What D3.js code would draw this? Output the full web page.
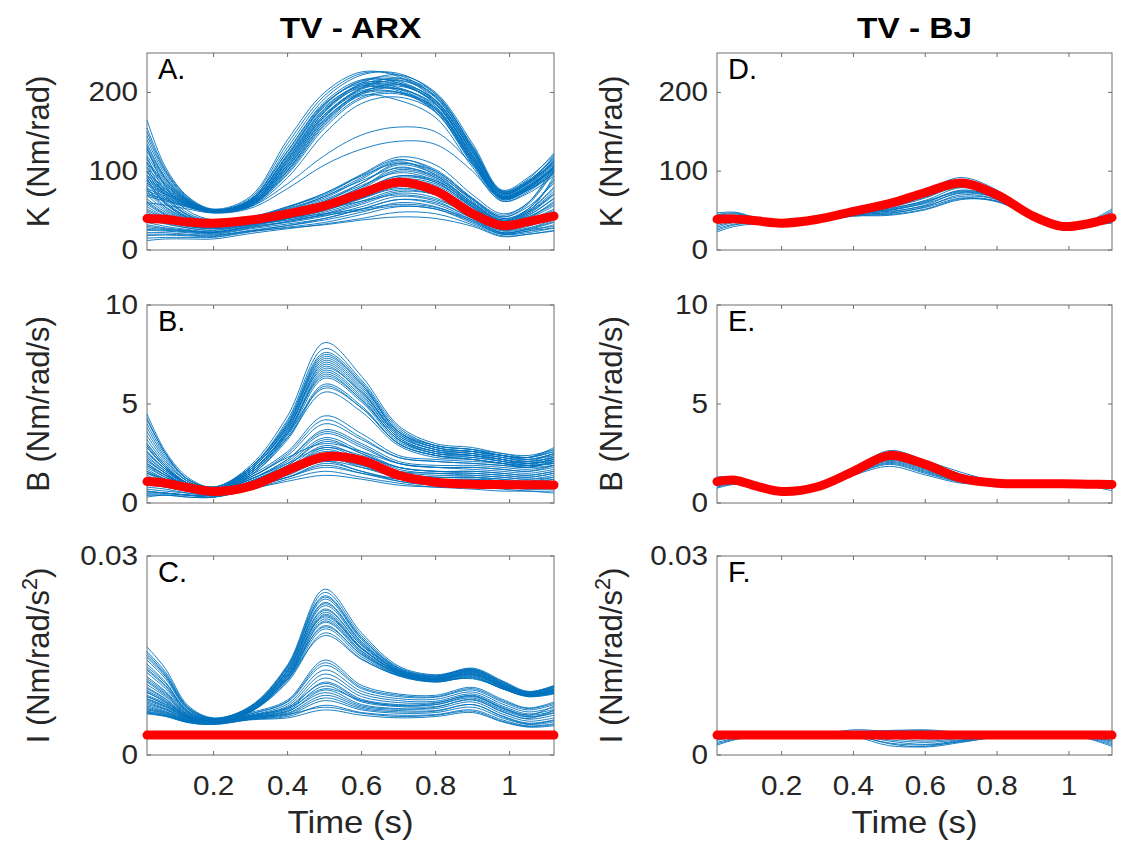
<!DOCTYPE html>
<html>
<head>
<meta charset="utf-8">
<script src="https://cdn.jsdelivr.net/npm/d3@7"></script>
<style>
  html, body { margin: 0; padding: 0; background: #ffffff; }
  svg { display: block; }
  text { font-family: "Liberation Sans", Arial, Helvetica, sans-serif; fill: #262626; }
</style>
</head>
<body>
<svg id="chart" width="1123" height="844"></svg>
<script>
// ---------------- DATA ----------------
const timeGrid = [0.02, 0.07, 0.13, 0.2, 0.3, 0.4, 0.5, 0.6, 0.7, 0.8, 0.9, 0.98, 1.05, 1.12];
const xTicks = [0.2, 0.4, 0.6, 0.8, 1];
const columnTitles = ["TV - ARX", "TV - BJ"];
const panelLetters = ["A.", "B.", "C.", "D.", "E.", "F."];
const kTicks = [0, 100, 200];
const bTicks = [0, 5, 10];
const iTicks = [0, 0.03];
const kTickLabels = ["0", "100", "200"];
const bTickLabels = ["0", "5", "10"];
const iTickLabels = ["0", "0.03"];

// Panel A: stiffness K, TV-ARX (Nm/rad)
const kArxHigh = [
  [165,105,68,52,68,140,200,226,220,190,125,72,85,120],
  [140,95,64,50,64,130,192,222,224,198,132,75,90,123],
  [120,86,62,50,62,122,185,215,218,195,128,74,88,116],
  [100,78,60,49,60,112,175,208,212,190,122,70,84,110],
  [88,72,58,49,58,105,168,204,210,185,118,68,80,106],
  [128,90,63,51,63,118,180,210,206,180,112,66,78,104],
  [75,66,56,48,57,100,160,198,205,182,115,67,80,108],
  [110,82,61,50,61,108,170,200,200,175,108,64,76,100],
  [95,75,59,49,59,110,172,205,215,196,130,74,86,114],
  [150,100,66,51,64,125,186,212,210,186,120,70,82,112],
  [68,62,54,48,56,96,155,192,198,178,112,66,78,102],
  [82,70,57,48,57,102,162,196,190,168,105,62,74,98],
  [135,92,64,51,62,116,178,206,202,176,110,65,77,100],
  [60,57,52,47,55,92,148,186,194,175,110,64,76,96],
  [105,80,60,49,58,104,165,200,208,188,124,72,84,112],
  [90,74,58,48,55,84,120,146,156,150,108,66,76,98],
  [72,64,55,47,53,78,108,128,138,134,100,62,72,94],
  [115,84,61,49,60,114,176,212,222,200,135,76,92,121],
  [78,68,56,48,56,98,158,194,200,180,114,66,80,104],
  [145,98,65,51,63,120,182,208,204,178,114,66,78,106],
  [155,102,67,51,66,135,196,224,222,194,128,73,87,118],
  [98,77,59,49,60,115,178,210,216,193,126,72,86,113],
  [125,88,62,50,61,112,172,202,204,184,118,68,81,106],
  [85,71,57,48,58,108,170,206,218,198,130,74,88,116],
  [112,83,61,50,62,120,184,214,214,188,120,69,82,109],
  [70,64,55,48,57,101,163,200,210,190,124,71,85,112],
  [132,91,63,51,64,126,188,216,212,186,118,68,80,105],
  [92,74,58,49,59,106,166,198,200,180,116,67,79,103]
];
const kArxLow = [
  [130,80,50,38,42,55,70,95,115,100,65,42,55,85],
  [110,70,45,36,40,50,62,85,110,98,62,40,50,78],
  [95,62,42,34,38,48,60,80,105,92,58,36,46,70],
  [80,55,40,33,37,46,58,78,100,90,56,35,44,65],
  [70,50,37,32,36,45,56,72,92,86,55,34,42,60],
  [60,45,35,30,35,44,55,70,88,80,52,32,40,56],
  [50,40,32,28,34,42,52,68,85,78,50,30,38,52],
  [45,38,30,27,33,40,50,65,80,75,48,29,36,48],
  [40,34,28,25,32,38,48,62,76,70,45,27,33,45],
  [35,30,26,23,30,36,45,58,72,66,42,25,30,42],
  [30,27,24,22,29,35,43,55,68,62,40,24,28,38],
  [25,24,22,20,27,33,40,52,64,58,38,22,26,35],
  [20,20,19,18,25,31,38,48,60,55,36,21,24,32],
  [15,16,16,16,23,29,35,45,55,52,34,20,22,28],
  [12,14,14,14,21,27,33,40,48,46,32,18,20,25],
  [100,65,44,35,40,52,66,90,112,95,60,38,48,72],
  [85,58,41,33,38,50,64,85,108,96,64,42,58,100],
  [55,42,34,30,36,48,62,82,98,88,58,36,52,90],
  [65,48,36,31,37,50,68,88,104,94,60,38,50,80],
  [42,36,30,28,35,45,58,75,90,84,56,34,46,72],
  [28,26,24,22,30,40,52,66,78,72,50,30,40,62],
  [75,52,38,31,36,44,52,62,70,64,44,26,32,40],
  [48,38,31,27,32,40,46,52,58,54,38,22,26,30],
  [22,22,20,19,24,28,32,38,42,40,30,17,20,24],
  [90,60,42,34,40,54,72,96,118,108,70,46,60,108],
  [32,28,25,23,31,42,56,72,88,82,54,33,44,66],
  [118,74,47,37,41,53,68,92,114,102,66,44,60,102],
  [88,59,41,33,38,48,60,76,94,88,58,37,48,75],
  [62,46,35,30,35,45,57,74,94,86,54,33,42,58],
  [52,41,33,29,34,43,54,70,86,80,50,31,38,50],
  [38,33,28,25,32,40,50,66,82,76,48,28,35,48],
  [26,25,23,21,28,36,46,60,74,70,46,26,32,44],
  [18,19,18,17,24,31,40,52,64,60,40,22,27,36],
  [58,44,34,29,33,38,44,50,56,52,36,20,24,28],
  [105,68,44,35,41,55,72,94,110,100,64,40,52,88],
  [78,54,39,32,37,47,60,80,102,92,60,38,48,94]
];
const kArxMean = [40,39,35.5,34,38,46,56,72,86,75,46,31,36,43];

// Panel B: damping B, TV-ARX (Nm/rad/s)
const bArxHigh = [
  [4.5,2.6,1.3,0.8,1.9,4.4,8.1,6.4,3.9,3.0,2.8,2.5,2.4,2.7],
  [4.0,2.4,1.2,0.8,1.8,4.2,7.8,6.2,3.8,2.9,2.7,2.4,2.3,2.6],
  [3.6,2.2,1.1,0.7,1.8,4.0,7.5,6.0,3.6,2.8,2.6,2.4,2.2,2.5],
  [3.2,2.0,1.1,0.7,1.7,3.9,7.2,5.8,3.5,2.7,2.6,2.3,2.2,2.4],
  [2.8,1.8,1.0,0.7,1.7,3.8,7.0,5.6,3.4,2.7,2.5,2.3,2.1,2.3],
  [2.5,1.7,1.0,0.7,1.6,3.7,6.9,5.5,3.3,2.6,2.5,2.2,2.1,2.5],
  [2.2,1.5,0.9,0.7,1.6,3.6,6.7,5.4,3.3,2.6,2.4,2.2,2.0,2.2],
  [2.0,1.4,0.9,0.7,1.5,3.5,6.5,5.2,3.2,2.5,2.4,2.1,2.0,2.1],
  [1.8,1.3,0.9,0.6,1.5,3.4,6.3,5.1,3.1,2.5,2.3,2.1,1.9,2.0],
  [3.8,2.3,1.2,0.8,1.7,3.8,6.8,5.6,3.5,2.8,2.6,2.4,2.3,2.8],
  [1.5,1.2,0.8,0.6,1.4,3.3,6.0,4.9,3.0,2.4,2.3,2.1,1.9,2.0],
  [3.0,1.9,1.0,0.7,1.6,3.5,5.8,4.8,3.0,2.4,2.2,2.0,1.8,1.9],
  [2.6,1.7,1.0,0.7,1.5,3.3,5.6,4.6,2.9,2.3,2.2,2.0,1.8,2.1],
  [4.2,2.5,1.2,0.8,1.8,4.1,7.6,6.1,3.7,2.9,2.7,2.5,2.3,2.6],
  [3.4,2.1,1.1,0.7,1.7,3.9,7.3,5.9,3.6,2.8,2.6,2.4,2.2,2.5],
  [2.3,1.6,1.0,0.7,1.6,3.7,7.1,5.7,3.4,2.7,2.5,2.3,2.1,2.3],
  [1.9,1.4,0.9,0.6,1.5,3.5,6.6,5.3,3.2,2.6,2.4,2.2,2.0,2.2],
  [4.3,2.5,1.2,0.8,1.8,4.0,7.4,6.0,3.6,2.9,2.7,2.4,2.3,2.7],
  [2.9,1.8,1.0,0.7,1.6,3.6,6.4,5.2,3.2,2.5,2.4,2.2,2.0,2.4],
  [1.6,1.2,0.8,0.6,1.4,3.2,5.9,4.8,3.0,2.4,2.2,2.0,1.9,2.0]
];
const bArxLow = [
  [3.0,1.9,1.0,0.7,1.4,2.6,4.4,3.5,2.4,2.2,2.1,2.0,1.9,2.3],
  [2.6,1.7,0.9,0.6,1.3,2.4,4.0,3.2,2.3,2.1,2.0,1.9,1.8,2.1],
  [2.2,1.5,0.8,0.6,1.2,2.2,3.7,3.0,2.1,1.9,1.9,1.8,1.7,1.9],
  [1.9,1.3,0.8,0.6,1.2,2.1,3.5,2.8,2.0,1.8,1.8,1.7,1.6,1.8],
  [1.6,1.1,0.7,0.5,1.1,2.0,3.3,2.6,1.8,1.6,1.6,1.5,1.4,1.6],
  [1.3,1.0,0.7,0.5,1.1,1.9,3.1,2.5,1.7,1.5,1.5,1.4,1.3,1.5],
  [1.1,0.9,0.6,0.5,1.0,1.8,2.9,2.3,1.6,1.4,1.4,1.3,1.2,1.4],
  [0.9,0.8,0.6,0.4,1.0,1.7,2.7,2.1,1.5,1.3,1.3,1.2,1.1,1.3],
  [0.7,0.6,0.5,0.4,0.9,1.6,2.5,2.0,1.4,1.2,1.2,1.1,1.0,1.2],
  [0.5,0.5,0.4,0.4,0.9,1.5,2.3,1.8,1.3,1.1,1.1,1.0,0.9,1.0],
  [0.4,0.4,0.4,0.3,0.8,1.4,2.1,1.6,1.2,1.0,1.0,0.9,0.8,0.9],
  [0.3,0.4,0.3,0.3,0.8,1.3,1.9,1.5,1.1,0.9,0.9,0.8,0.7,0.7],
  [0.6,0.5,0.4,0.3,0.7,1.2,1.6,1.3,1.0,0.8,0.8,0.7,0.6,0.6],
  [1.4,1.0,0.6,0.5,1.0,1.6,2.2,1.9,1.5,1.3,1.3,1.1,1.0,1.1],
  [2.4,1.6,0.9,0.6,1.3,2.3,3.0,2.6,2.0,1.8,1.7,1.6,1.5,1.7],
  [0.8,0.7,0.5,0.4,0.8,1.3,1.8,1.5,1.2,1.1,1.0,0.9,0.8,0.8],
  [1.7,1.2,0.7,0.5,1.1,1.8,2.6,2.2,1.6,1.5,1.4,1.3,1.2,1.3],
  [0.5,0.5,0.4,0.3,0.7,1.1,1.4,1.2,0.9,0.8,0.7,0.6,0.6,0.5],
  [2.8,1.8,0.9,0.6,1.3,2.5,4.2,3.3,2.3,2.1,2.0,1.9,1.8,2.2],
  [2.0,1.4,0.8,0.6,1.2,2.2,3.6,2.9,2.0,1.8,1.8,1.7,1.6,1.9],
  [1.5,1.1,0.7,0.5,1.1,1.9,3.2,2.5,1.8,1.6,1.5,1.4,1.3,1.5],
  [1.0,0.8,0.6,0.5,1.0,1.7,2.8,2.2,1.5,1.3,1.3,1.2,1.1,1.2],
  [0.6,0.5,0.4,0.4,0.9,1.5,2.4,1.9,1.3,1.1,1.1,1.0,0.9,1.1],
  [0.4,0.4,0.3,0.3,0.8,1.3,2.0,1.6,1.1,0.9,0.9,0.8,0.7,0.8],
  [1.2,0.9,0.6,0.5,0.9,1.5,2.1,1.8,1.4,1.2,1.2,1.1,1.0,1.0],
  [2.1,1.5,0.8,0.6,1.2,2.0,2.8,2.4,1.8,1.6,1.6,1.5,1.4,1.6]
];
const bArxMean = [1.08,1.0,0.78,0.58,0.85,1.65,2.34,2.15,1.4,1.05,0.95,0.93,0.92,0.91];

// Panel C: inertia I, TV-ARX (Nm/rad/s^2), values in 1e-3
const iArxHigh = [
  [16.3,13.0,7.5,5.6,7.4,13.6,25.0,18.4,13.4,12.1,13.0,11.1,9.5,10.4],
  [15.6,12.5,7.3,5.5,7.3,13.4,24.5,18.0,13.2,12.0,12.9,11.0,9.4,10.3],
  [15.0,12.0,7.1,5.5,7.2,13.2,24.0,17.7,13.0,11.9,12.8,10.9,9.4,10.2],
  [14.3,11.5,6.9,5.4,7.1,13.0,23.5,17.4,12.9,11.8,12.7,10.8,9.3,10.1],
  [13.7,11.0,6.7,5.4,7.0,12.8,23.0,17.1,12.8,11.7,12.6,10.7,9.3,10.0],
  [13.0,10.5,6.6,5.3,7.0,12.6,22.5,16.8,12.7,11.6,12.5,10.6,9.2,9.9],
  [12.4,10.0,6.4,5.3,6.9,12.4,22.0,16.5,12.6,11.5,12.4,10.5,9.2,9.8],
  [11.8,9.6,6.3,5.2,6.8,12.2,21.5,16.2,12.5,11.4,12.3,10.4,9.1,9.7],
  [11.2,9.2,6.1,5.2,6.8,12.0,21.0,16.0,12.4,11.4,12.2,10.3,9.1,9.7],
  [10.6,8.8,6.0,5.1,6.7,11.8,20.5,15.7,12.3,11.3,12.1,10.3,9.0,9.6],
  [10.0,8.4,5.9,5.1,6.6,11.6,20.0,15.4,12.2,11.2,12.0,10.2,9.0,9.5],
  [9.4,8.0,5.8,5.0,6.6,11.4,19.5,15.1,12.1,11.1,11.9,10.1,8.9,9.4],
  [8.8,7.6,5.7,5.0,6.5,11.2,19.0,14.8,12.0,11.0,11.8,10.0,8.9,9.3],
  [8.4,7.3,5.6,4.9,6.5,11.0,18.4,14.5,11.9,11.0,11.7,10.0,8.8,9.2],
  [14.7,11.8,7.0,5.5,7.2,12.7,21.8,16.6,12.8,11.8,12.9,10.9,9.5,10.5],
  [12.8,10.3,6.5,5.3,6.9,12.3,20.8,16.0,12.6,11.6,12.7,10.7,9.3,10.2],
  [11.5,9.4,6.2,5.2,6.8,11.9,19.3,15.2,12.3,11.4,12.5,10.5,9.2,9.9],
  [10.2,8.5,5.9,5.1,6.6,11.5,18.0,14.4,12.0,11.2,12.2,10.3,9.0,9.6],
  [15.3,12.2,7.2,5.5,7.3,13.3,23.8,17.6,13.1,11.9,13.1,11.2,9.6,10.4],
  [13.3,10.8,6.6,5.3,7.0,12.7,22.8,17.0,12.7,11.5,12.2,10.4,9.1,9.8],
  [9.7,8.2,5.8,5.0,6.6,11.5,20.2,15.6,12.2,11.1,11.6,10.0,8.8,9.3],
  [11.0,9.0,6.1,5.2,6.7,11.9,21.2,16.1,12.4,11.3,11.5,10.1,8.9,9.5]
];
const iArxLow = [
  [9.5,8.0,5.8,5.2,6.4,8.3,14.3,10.5,9.2,9.0,10.2,8.4,7.1,8.0],
  [8.8,7.6,5.6,5.1,6.2,8.0,13.5,10.0,8.8,8.7,9.8,8.0,6.8,7.6],
  [8.2,7.2,5.5,5.0,6.0,7.7,12.8,9.6,8.5,8.4,9.5,7.7,6.5,7.2],
  [7.6,6.8,5.4,4.9,5.9,7.4,12.2,9.2,8.2,8.1,9.2,7.4,6.2,6.9],
  [7.0,6.4,5.2,4.8,5.8,7.1,11.6,8.8,7.9,7.9,8.9,7.1,6.0,6.6],
  [6.6,6.1,5.1,4.8,5.7,6.9,11.0,8.4,7.6,7.6,8.6,6.8,5.7,6.3],
  [6.3,5.9,5.0,4.7,5.6,6.7,10.4,8.0,7.3,7.3,8.3,6.5,5.4,6.0],
  [6.8,6.2,5.1,4.8,5.6,6.5,9.8,7.6,7.0,7.0,8.0,6.2,5.1,5.6],
  [7.2,6.5,5.2,4.8,5.5,6.3,9.0,7.2,6.7,6.7,7.6,5.9,4.8,5.3],
  [6.5,6.0,5.0,4.7,5.4,6.0,8.2,6.8,6.3,6.4,7.2,5.6,4.6,5.0],
  [7.8,6.9,5.3,4.8,5.4,5.8,7.5,6.4,6.0,6.1,6.8,5.3,4.4,4.7],
  [6.4,5.9,4.9,4.6,5.3,5.6,6.8,6.0,5.6,5.8,6.4,5.0,4.2,4.4],
  [8.5,7.4,5.5,5.0,5.8,6.6,9.4,7.4,6.9,7.2,8.4,6.6,5.5,6.8],
  [9.0,7.8,5.7,5.1,6.0,7.2,10.8,8.2,7.5,7.8,9.0,7.2,6.0,7.4],
  [8.0,7.0,5.4,4.9,6.2,8.1,13.9,10.2,9.0,8.8,10.0,8.2,7.0,7.8],
  [7.4,6.6,5.3,4.9,5.9,7.0,10.0,8.2,7.4,7.6,8.8,7.0,5.8,6.4],
  [6.9,6.3,5.1,4.8,5.7,6.2,8.6,7.0,6.5,6.6,7.6,5.8,4.7,5.2],
  [6.2,5.8,4.9,4.6,5.4,6.1,7.2,6.3,5.8,6.0,6.6,5.1,4.3,4.6]
];
const iArxMean = [3.0,3.0,3.0,3.0,3.0,3.0,3.0,3.0,3.0,3.0,3.0,3.0,3.0,3.0];

// Panel D: stiffness K, TV-BJ
const kBj = [
  [47,48,41,36,41,52,62,76,92,76,46,31,36,52],
  [44,46,40,35,40,50,60,74,89,74,45,31,35,48],
  [41,44,39,35,40,49,57,70,86,72,44,30,34,45],
  [37,41,38,34,38,47,54,66,82,70,43,29,33,42],
  [33,38,37,34,38,46,52,63,79,68,43,29,33,40],
  [29,35,35,33,37,45,50,60,76,67,42,29,32,38],
  [25,32,34,33,37,44,48,57,73,66,42,29,32,36],
  [23,30,33,32,36,43,46,55,70,64,41,28,31,35],
  [38,41,37,34,38,46,49,56,68,64,42,29,32,37],
  [35,39,36,33,37,45,47,54,66,62,41,28,31,34],
  [42,44,39,35,39,47,51,59,72,66,43,30,34,44],
  [31,36,36,33,37,44,45,52,65,61,41,28,32,39],
  [45,47,40,36,40,48,53,62,75,68,44,31,35,50],
  [27,33,34,33,37,43,44,51,64,62,42,30,34,43],
  [40,43,38,34,39,48,55,67,80,70,44,30,33,41],
  [36,40,37,34,38,46,51,61,74,67,43,29,32,37]
];
const kBjMean = [39,39.5,37,34,39,49,59,73,85,70,43,30,33,41];

// Panel E: damping B, TV-BJ
const bBj = [
  [1.32,1.3,0.92,0.6,0.86,1.72,2.65,2.15,1.55,1.1,1.02,1.05,1.02,1.05],
  [1.25,1.27,0.9,0.6,0.85,1.68,2.55,2.1,1.45,1.07,1.0,1.03,1.0,1.0],
  [1.18,1.23,0.89,0.59,0.84,1.64,2.45,2.0,1.38,1.05,0.99,1.0,0.98,0.96],
  [1.1,1.18,0.87,0.58,0.83,1.6,2.35,1.9,1.3,1.02,0.98,0.98,0.96,0.92],
  [1.02,1.12,0.85,0.58,0.82,1.56,2.25,1.8,1.22,1.0,0.97,0.97,0.94,0.88],
  [0.95,1.07,0.83,0.57,0.81,1.52,2.15,1.7,1.15,0.98,0.96,0.96,0.92,0.84],
  [0.88,1.02,0.81,0.57,0.8,1.48,2.05,1.6,1.1,0.96,0.95,0.95,0.9,0.78],
  [0.8,0.97,0.8,0.56,0.79,1.44,1.95,1.5,1.05,0.95,0.94,0.94,0.88,0.72],
  [0.75,0.94,0.79,0.56,0.78,1.4,1.85,1.42,1.0,0.94,0.93,0.93,0.86,0.62],
  [1.05,1.14,0.86,0.58,0.82,1.55,2.1,1.65,1.12,0.97,0.96,0.96,0.93,0.85],
  [0.9,1.04,0.82,0.57,0.8,1.5,2.3,1.85,1.2,0.99,0.97,0.97,0.93,0.8],
  [1.15,1.2,0.88,0.59,0.83,1.58,2.2,1.75,1.18,0.98,0.96,0.97,0.95,0.9],
  [0.85,1.0,0.81,0.57,0.8,1.46,2.0,1.55,1.08,0.96,0.95,0.95,0.9,0.75]
];
const bBjMean = [1.08,1.15,0.85,0.58,0.82,1.6,2.4,1.95,1.25,1.0,0.97,0.97,0.95,0.94];

// Panel F: inertia I, TV-BJ, values in 1e-3
const iBj = [
  [2.8,3.0,3.0,3.0,3.0,3.3,2.6,2.1,2.5,2.9,3.0,3.0,2.9,2.5],
  [2.2,2.7,2.9,3.0,3.0,3.4,3.0,2.4,2.6,2.9,3.0,3.0,2.8,2.1],
  [1.5,2.3,2.8,2.9,3.0,3.0,1.7,1.2,1.9,2.7,3.0,3.0,2.6,1.5],
  [3.2,3.3,3.2,3.1,3.1,3.8,3.6,3.8,3.4,3.1,3.0,3.0,3.1,3.2],
  [2.5,2.8,3.0,3.0,3.0,3.1,2.1,1.6,2.2,2.8,3.0,3.0,2.8,1.9],
  [3.0,3.1,3.1,3.0,3.0,3.5,3.3,3.1,3.0,3.0,3.0,3.0,3.0,2.8],
  [1.9,2.5,2.9,3.0,3.0,2.8,1.4,1.3,2.1,2.8,3.0,3.0,2.5,1.3],
  [2.6,2.9,3.0,3.0,3.0,3.6,3.4,2.8,2.8,2.9,3.0,3.0,2.9,2.4],
  [1.7,2.4,2.8,2.9,3.0,3.1,2.3,1.9,2.3,2.8,3.0,3.0,2.7,1.7],
  [3.1,3.2,3.1,3.0,3.0,3.3,3.7,3.7,3.2,3.0,3.0,3.0,3.0,3.0],
  [2.3,2.7,2.9,3.0,3.0,2.9,1.8,1.5,2.0,2.7,3.0,3.0,2.8,2.2]
];
const iBjMean = [3.0,3.0,3.0,3.0,3.0,3.0,3.0,3.0,3.0,3.0,3.0,3.0,3.0,3.0];
const inertiaUnit = 0.001;

// ---------------- LAYOUT ----------------
const svg = d3.select("#chart");
svg.append("rect").attr("width", 1123).attr("height", 844).attr("fill", "#ffffff");

const cols = [{x0: 147, x1: 554}, {x0: 717, x1: 1112}];
const rows = [{y0: 53, y1: 250}, {y0: 305, y1: 503}, {y0: 556, y1: 755}];
const xDomain = [0.02, 1.12];

const rowDefs = [
  {domain: [0, 250], ticks: kTicks, labels: kTickLabels, scaleVal: 1, ylabel: "K (Nm/rad)"},
  {domain: [0, 10], ticks: bTicks, labels: bTickLabels, scaleVal: 1, ylabel: "B (Nm/rad/s)"},
  {domain: [0, 0.03], ticks: iTicks, labels: iTickLabels, scaleVal: inertiaUnit, ylabel: "I"}
];
const panelData = [
  [ {blue: kArxHigh.concat(kArxLow), red: kArxMean}, {blue: kBj, red: kBjMean} ],
  [ {blue: bArxHigh.concat(bArxLow), red: bArxMean}, {blue: bBj, red: bBjMean} ],
  [ {blue: iArxHigh.concat(iArxLow), red: iArxMean}, {blue: iBj, red: iBjMean} ]
];

const TICK_FS = 27, LABEL_FS = 31, TITLE_FS = 29, LETTER_FS = 29;
const SX = 1.1;

function hText(g, x, y, str, fs, anchor, opts = {}) {
  const t = g.append("text")
    .attr("transform", `translate(${x},${y}) scale(${opts.sx || 1},1)`)
    .attr("text-anchor", anchor)
    .attr("font-size", fs)
    .text(str);
  if (opts.bold) t.attr("font-weight", "bold").style("fill", "#000");
  if (opts.color) t.style("fill", opts.color);
  return t;
}

for (let c = 0; c < 2; c++) {
  const col = cols[c];
  const x = d3.scaleLinear().domain(xDomain).range([col.x0, col.x1]);
  hText(svg, (col.x0 + col.x1) / 2, 38, columnTitles[c], TITLE_FS, "middle", {bold: true, sx: 1.15});
  for (let r = 0; r < 3; r++) {
    const row = rows[r], def = rowDefs[r];
    const y = d3.scaleLinear().domain(def.domain).range([row.y1, row.y0]);
    const g = svg.append("g");
    g.append("rect").attr("x", col.x0).attr("y", row.y0)
      .attr("width", col.x1 - col.x0).attr("height", row.y1 - row.y0)
      .attr("fill", "#fff").attr("stroke", "#6e6e6e").attr("stroke-width", 1);
    const xt = g.append("g").attr("stroke", "#6e6e6e").attr("stroke-width", 1);
    xTicks.forEach(v => {
      xt.append("line").attr("x1", x(v)).attr("x2", x(v)).attr("y1", row.y1).attr("y2", row.y1 - 4);
      xt.append("line").attr("x1", x(v)).attr("x2", x(v)).attr("y1", row.y0).attr("y2", row.y0 + 4);
    });
    def.ticks.forEach((v, i) => {
      xt.append("line").attr("x1", col.x0).attr("x2", col.x0 + 4).attr("y1", y(v)).attr("y2", y(v));
      xt.append("line").attr("x1", col.x1).attr("x2", col.x1 - 4).attr("y1", y(v)).attr("y2", y(v));
      hText(g, col.x0 - 9, y(v) + 9, def.labels[i], TICK_FS, "end", {sx: SX});
    });
    if (r === 2) {
      xTicks.forEach(v => hText(g, x(v), 795, String(v), TICK_FS, "middle", {sx: SX}));
      hText(g, (col.x0 + col.x1) / 2, 833, "Time (s)", LABEL_FS, "middle", {sx: 1.12});
    }
    const ylx = c === 0 ? 49 : 622;
    const ycy = (row.y0 + row.y1) / 2;
    const yl = g.append("text")
      .attr("transform", `translate(${ylx},${ycy}) rotate(-90)`)
      .attr("text-anchor", "middle").attr("font-size", LABEL_FS);
    if (r === 2) {
      yl.append("tspan").text("I (Nm/rad/s");
      yl.append("tspan").attr("font-size", LABEL_FS * 0.7).attr("dy", -12).text("2");
      yl.append("tspan").attr("dy", 12).text(")");
    } else {
      yl.text(def.ylabel);
    }
    const line = d3.line()
      .x((d, i) => x(timeGrid[i]))
      .y(d => y(d * def.scaleVal))
      .curve(d3.curveCatmullRom.alpha(0.5));
    const pd = panelData[r][c];
    g.append("g").selectAll("path").data(pd.blue).join("path")
      .attr("d", line).attr("fill", "none").attr("stroke", "#0072BD").attr("stroke-width", 0.9);
    g.append("path").datum(pd.red).attr("d", line)
      .attr("fill", "none").attr("stroke", "#FF0000").attr("stroke-width", 9)
      .attr("stroke-linecap", "round").attr("stroke-linejoin", "round");
    hText(g, col.x0 + 11, row.y0 + 26, panelLetters[c * 3 + r], LETTER_FS, "start", {color: "#000"});
  }
}
</script>
</body>
</html>
